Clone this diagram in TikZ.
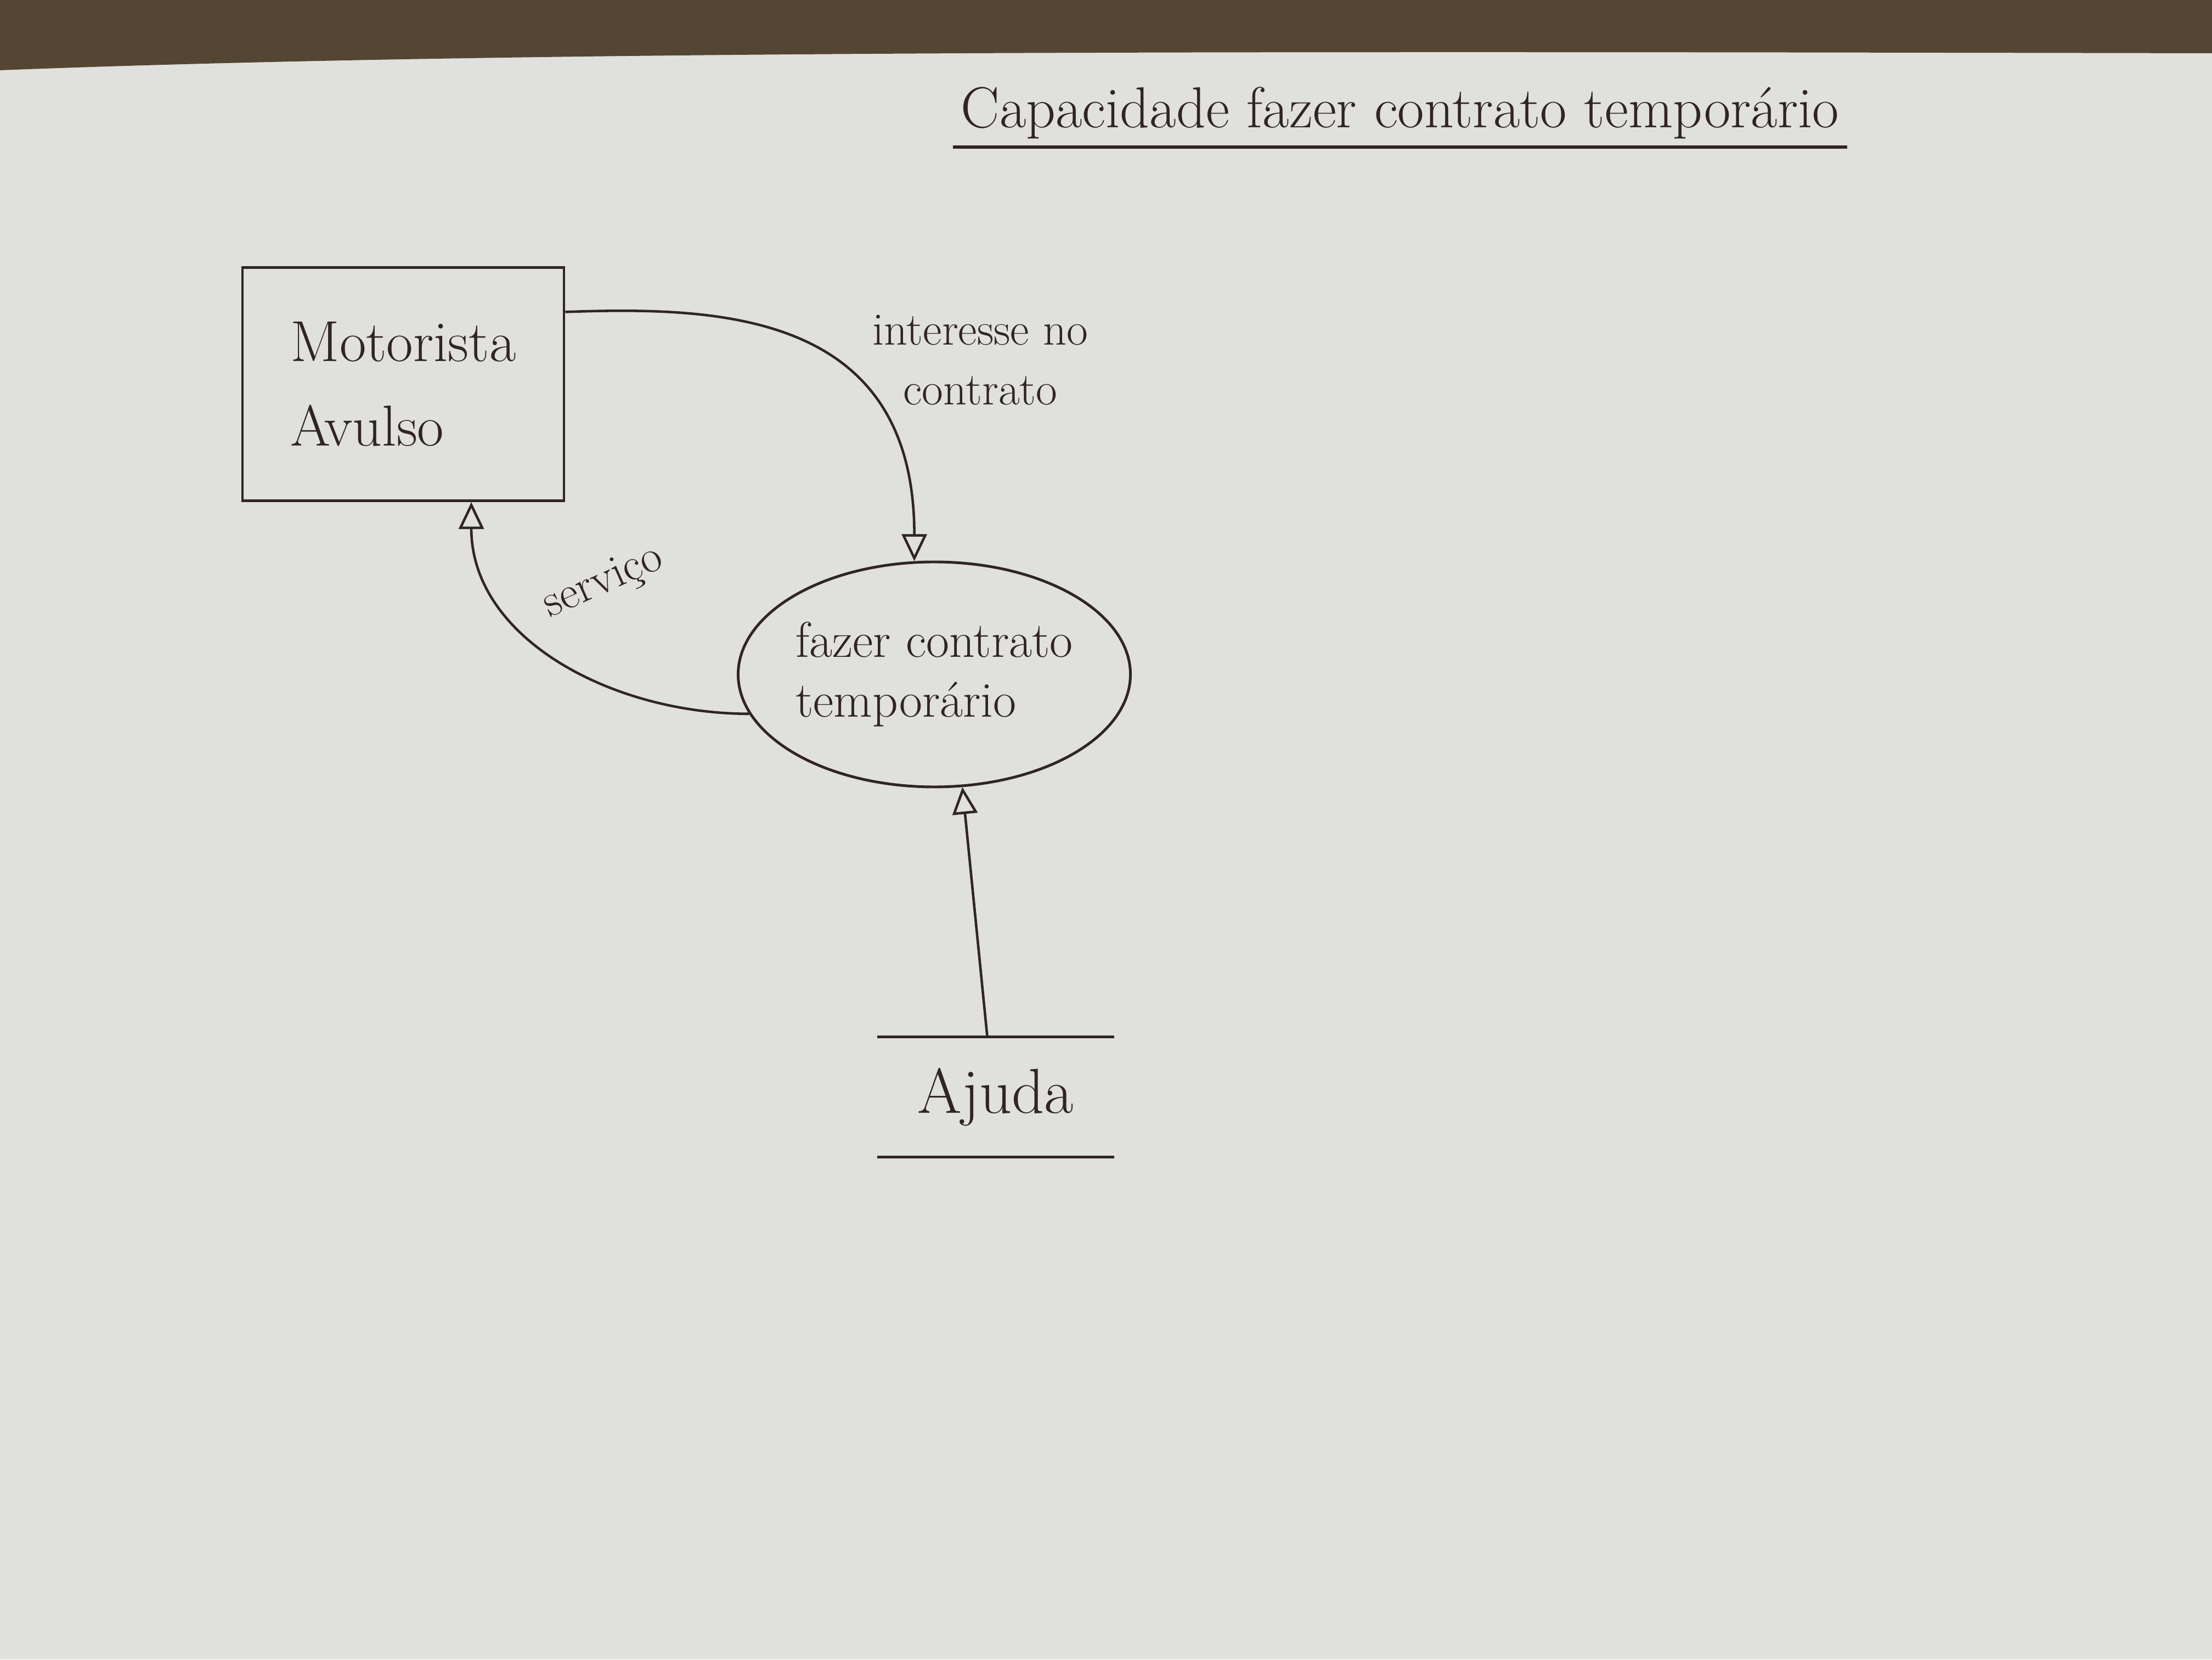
\documentclass[tikz,border=0pt]{standalone}
\usepackage{tikz}
\usetikzlibrary{arrows.meta,shapes.geometric}

\definecolor{ink}{RGB}{48,36,36}
\definecolor{paper}{RGB}{224,224,222}
\definecolor{wood}{RGB}{84,70,50}

\begin{document}
\begin{tikzpicture}[x=1cm,y=1cm,color=ink]

	\tikzstyle entity=[draw, line width=1.4pt, minimum width=5.86cm, minimum height=4.25cm, align=left, font=\fontsize{30}{44}\selectfont];
	\tikzstyle process=[draw, ellipse, line width=1.4pt, minimum width=6.8cm, minimum height=4.1cm, inner sep=0pt, align=left, font=\fontsize{26}{31}\selectfont];
	\tikzstyle store=[minimum width=4.3cm, minimum height=2.18cm, font=\fontsize{33}{36}\selectfont];
	\tikzstyle store lines=[line width=1.4pt];
	\tikzstyle flow=[line width=1.3pt, -{Triangle[open, length=14pt, width=13pt]}];
	\tikzstyle flow label=[font=\fontsize{24}{31}\selectfont, align=center];

	% paper and table edge
	\useasboundingbox (0,0) rectangle (40.32,30.24);
	\fill[paper] (0,0) rectangle (40.32,30.24);
	\fill[wood] (0,30.24) -- (0,28.96) .. controls (10,29.35) and (25,29.3) .. (40.32,29.27) -- (40.32,30.24) -- cycle;

	% title
	\node[inner sep=4pt, font=\fontsize{30}{36}\selectfont] (title) at (25.52,28.18) {Capacidade fazer contrato temporário};
	\draw[line width=1.6pt] (title.south west) -- (title.south east);

	\node[entity] (motorista) at (7.35,23.24) {Motorista\\Avulso};
	\node[process] (fazer) at (17.03,17.95) {fazer contrato\\temporário};
	\node[store] (ajuda) at (18.15,10.25) {Ajuda};
	\draw[store lines] (ajuda.north west) -- (ajuda.north east) (ajuda.south west) -- (ajuda.south east);

	\draw[flow] (motorista.24) to[out=2, in=90, out looseness=0.9, in looseness=1.5] (fazer.100);
	\draw[flow] (fazer.192) to[out=180, in=-90] (motorista.-60);
	\draw[flow] (ajuda.98) -- (fazer.-76);

	\node[flow label] (interesse) at (17.87,23.68) {interesse no\\contrato};
	\node[flow label, rotate=24] (servico) at (11.0,19.62) {serviço};

\end{tikzpicture}
\end{document}
